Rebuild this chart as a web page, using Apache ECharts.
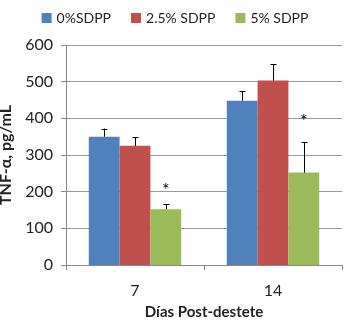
<!DOCTYPE html>
<html><head><meta charset="utf-8">
<script src="https://cdn.jsdelivr.net/npm/echarts@6/dist/echarts.min.js"></script>
<style>html,body{margin:0;padding:0;background:#fff}#c{width:350px;height:327px}</style>
</head><body><div id="c"></div>
<script>
const categories = ['7', '14'];
const seriesNames = ['0%SDPP', '2.5% SDPP', '5% SDPP'];
const values0 = [350, 448];
const values25 = [325, 503];
const values5 = [152, 252];
const errors0 = [22, 26];
const errors25 = [23, 44];
const errors5 = [14, 83];
const starValues = [203, 393]; // asterisks above 5% SDPP bars
const yTicks = [0, 100, 200, 300, 400, 500, 600];
const colors = ['#4F81BD', '#C0504D', '#9BBB59'];

const vals = [values0, values25, values5];
const errs = [errors0, errors25, errors5];
const GAP = 0.33;
const FONT = 'Lato';

function barOffset(api, idx) {
  const band = api.size([1, 0])[0];
  const bw = band * (1 - GAP) / 3;
  return { bw: bw, off: (idx - 1) * bw };
}

const series = [];
vals.forEach((v, i) => {
  series.push({
    name: seriesNames[i], type: 'bar', data: v, barGap: '0%', barCategoryGap: (GAP * 100) + '%',
    itemStyle: { color: colors[i] }, z: 2
  });
});
vals.forEach((v, i) => {
  series.push({
    type: 'custom', silent: true, z: 5,
    data: v.map((val, k) => [k, val, val + errs[i][k]]),
    renderItem: function (params, api) {
      const o = barOffset(api, i);
      const p0 = api.coord([api.value(0), api.value(1)]);
      const p1 = api.coord([api.value(0), api.value(2)]);
      const x = Math.round(p0[0] + o.off) + 0.5;
      return { type: 'group', children: [
        { type: 'line', shape: { x1: x, y1: p0[1], x2: x, y2: p1[1] }, style: { stroke: '#000', lineWidth: 1 } },
        { type: 'line', shape: { x1: x - 3, y1: Math.round(p1[1]) + 0.5, x2: x + 3, y2: Math.round(p1[1]) + 0.5 }, style: { stroke: '#000', lineWidth: 1 } }
      ]};
    }
  });
});
series.push({
  type: 'custom', silent: true, z: 6,
  data: starValues.map((s, k) => [k, s]),
  renderItem: function (params, api) {
    const o = barOffset(api, 2);
    const p = api.coord([api.value(0), api.value(1)]);
    return { type: 'text', style: { text: '*', x: p[0] + o.off, y: p[1], align: 'center', verticalAlign: 'middle', font: '18px ' + FONT, fill: '#000' } };
  }
});

const chart = echarts.init(document.getElementById('c'), null, { renderer: 'canvas' });
chart.setOption({
  animation: false,
  textStyle: { fontFamily: FONT },
  legend: {
    data: seriesNames, top: 6, left: 'center', itemWidth: 10, itemHeight: 10, itemGap: 20,
    icon: 'rect', textStyle: { fontSize: 14, color: '#222', fontFamily: FONT }
  },
  grid: { left: 66, right: 8, top: 45, bottom: 62, containLabel: false, outerBoundsMode: 'none' },
  xAxis: {
    type: 'category', data: categories,
    axisLine: { lineStyle: { color: '#888' } },
    axisTick: { show: true, length: 5, lineStyle: { color: '#888' } },
    axisLabel: { fontSize: 16, color: '#222', margin: 18, fontFamily: FONT },
    name: 'Días Post-destete', nameLocation: 'middle', nameGap: 40,
    nameTextStyle: { fontSize: 15, fontWeight: 'bold', color: '#222', fontFamily: FONT }
  },
  yAxis: {
    type: 'value', min: yTicks[0], max: yTicks[yTicks.length - 1], interval: 100,
    axisLine: { show: true, lineStyle: { color: '#888' } },
    axisTick: { show: true, length: 5, lineStyle: { color: '#888' } },
    splitLine: { lineStyle: { color: '#999' } },
    axisLabel: { fontSize: 16, color: '#222', margin: 13, fontFamily: FONT },
    name: 'TNF-α, pg/mL', nameLocation: 'middle', nameGap: 48, nameRotate: 90,
    nameTextStyle: { fontSize: 16, fontWeight: 'bold', color: '#222', fontFamily: FONT }
  },
  series: series
});
</script></body></html>
